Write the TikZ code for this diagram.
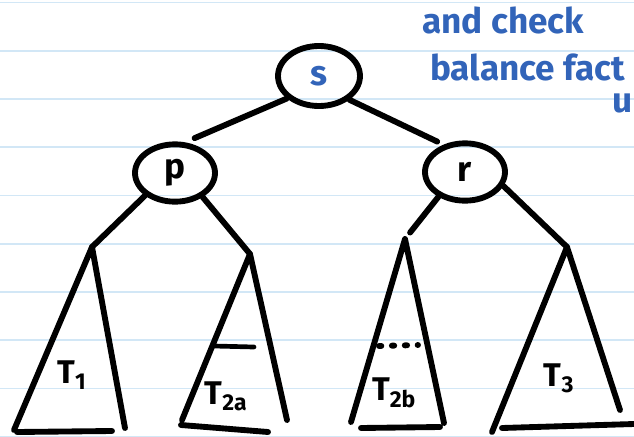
\documentclass[tikz,border=0pt]{standalone}
\usepackage{fontspec}
\setmainfont{Fira Sans}
\usetikzlibrary{shapes.geometric}
\definecolor{ink}{HTML}{3264B9}
\definecolor{paperline}{HTML}{D2E7F6}
\tikzset{
  knot/.style={ellipse, draw, line width=5pt, minimum width=2.4cm, minimum height=1.72cm,
    inner sep=0pt, font=\fontsize{30}{30}\selectfont\bfseries},
  pen/.style={line width=5pt, line cap=round, line join=round},
  lbl/.style={inner sep=0pt, font=\fontsize{28}{28}\selectfont\bfseries},
  note/.style={text=ink, anchor=base west, inner sep=0pt, font=\fontsize{30}{30}\selectfont\bfseries},
}

\begin{document}
\begin{tikzpicture}[x=0.03cm, y=-0.03cm]
\useasboundingbox (0,0) rectangle (634,436);
\clip (0,0) rectangle (634,436);
% ruled paper
\foreach \k in {0,...,9}
  \draw[paperline, line width=1.6pt] (0,2.5+48.25*\k) -- (634,2.5+48.25*\k);

\node[knot, text=ink, minimum width=2.46cm, minimum height=1.8cm] (s) at (319,76) {s};
\node[knot] (p) at (175,173) {p};
\node[knot] (r) at (465,172) {r};

% tops of the subtrees
\coordinate (a1) at (92,247);
\coordinate (a2) at (250,254);
\coordinate (a3) at (405,239);
\coordinate (a4) at (567,247);

\draw[pen, shorten >=9pt] (s.215) -- (p.72);
\draw[pen, shorten >=6pt] (s.322) -- (r.128);
\draw[pen] (p.217) -- (a1);
\draw[pen] (p.319) -- (a2);
\draw[pen, shorten >=7pt] (r.223) -- (a3);
\draw[pen] (r.340) -- (a4);

% T1
\draw[pen] (a1) -- (14,430) (a1) -- (125,428) (17,432) -- (112,431);
\node[lbl] (t1) at (72,375) {T\textsubscript{1}};
% T2a
\draw[pen] (a2) -- (182,420) (a2) -- (287,420) (181,425) -- (268,432);
\draw[pen, line width=4pt] (214,346) -- (254,347);
\node[lbl] (t2a) at (226,396) {T\textsubscript{2a}};
% T2b
\draw[pen] (a3) -- (351,422) (a3) -- (444,423) (361,428) -- (440,427);
\draw[pen, dash pattern=on 2pt off 9pt] (379,346) -- (418,345);
\node[lbl] (t2b) at (394,393) {T\textsubscript{2b}};
% T3
\draw[pen] (a4) -- (492,432) (a4) -- (620,410) (502,428) -- (634,424);
\node[lbl] (t3) at (559,378) {T\textsubscript{3}};

\node[note] (n1) at (422,33) {and check};
\node[note] (n2) at (430,80) {balance fact};
\node[note] (n3) at (612,112) {u};
\end{tikzpicture}
\end{document}
